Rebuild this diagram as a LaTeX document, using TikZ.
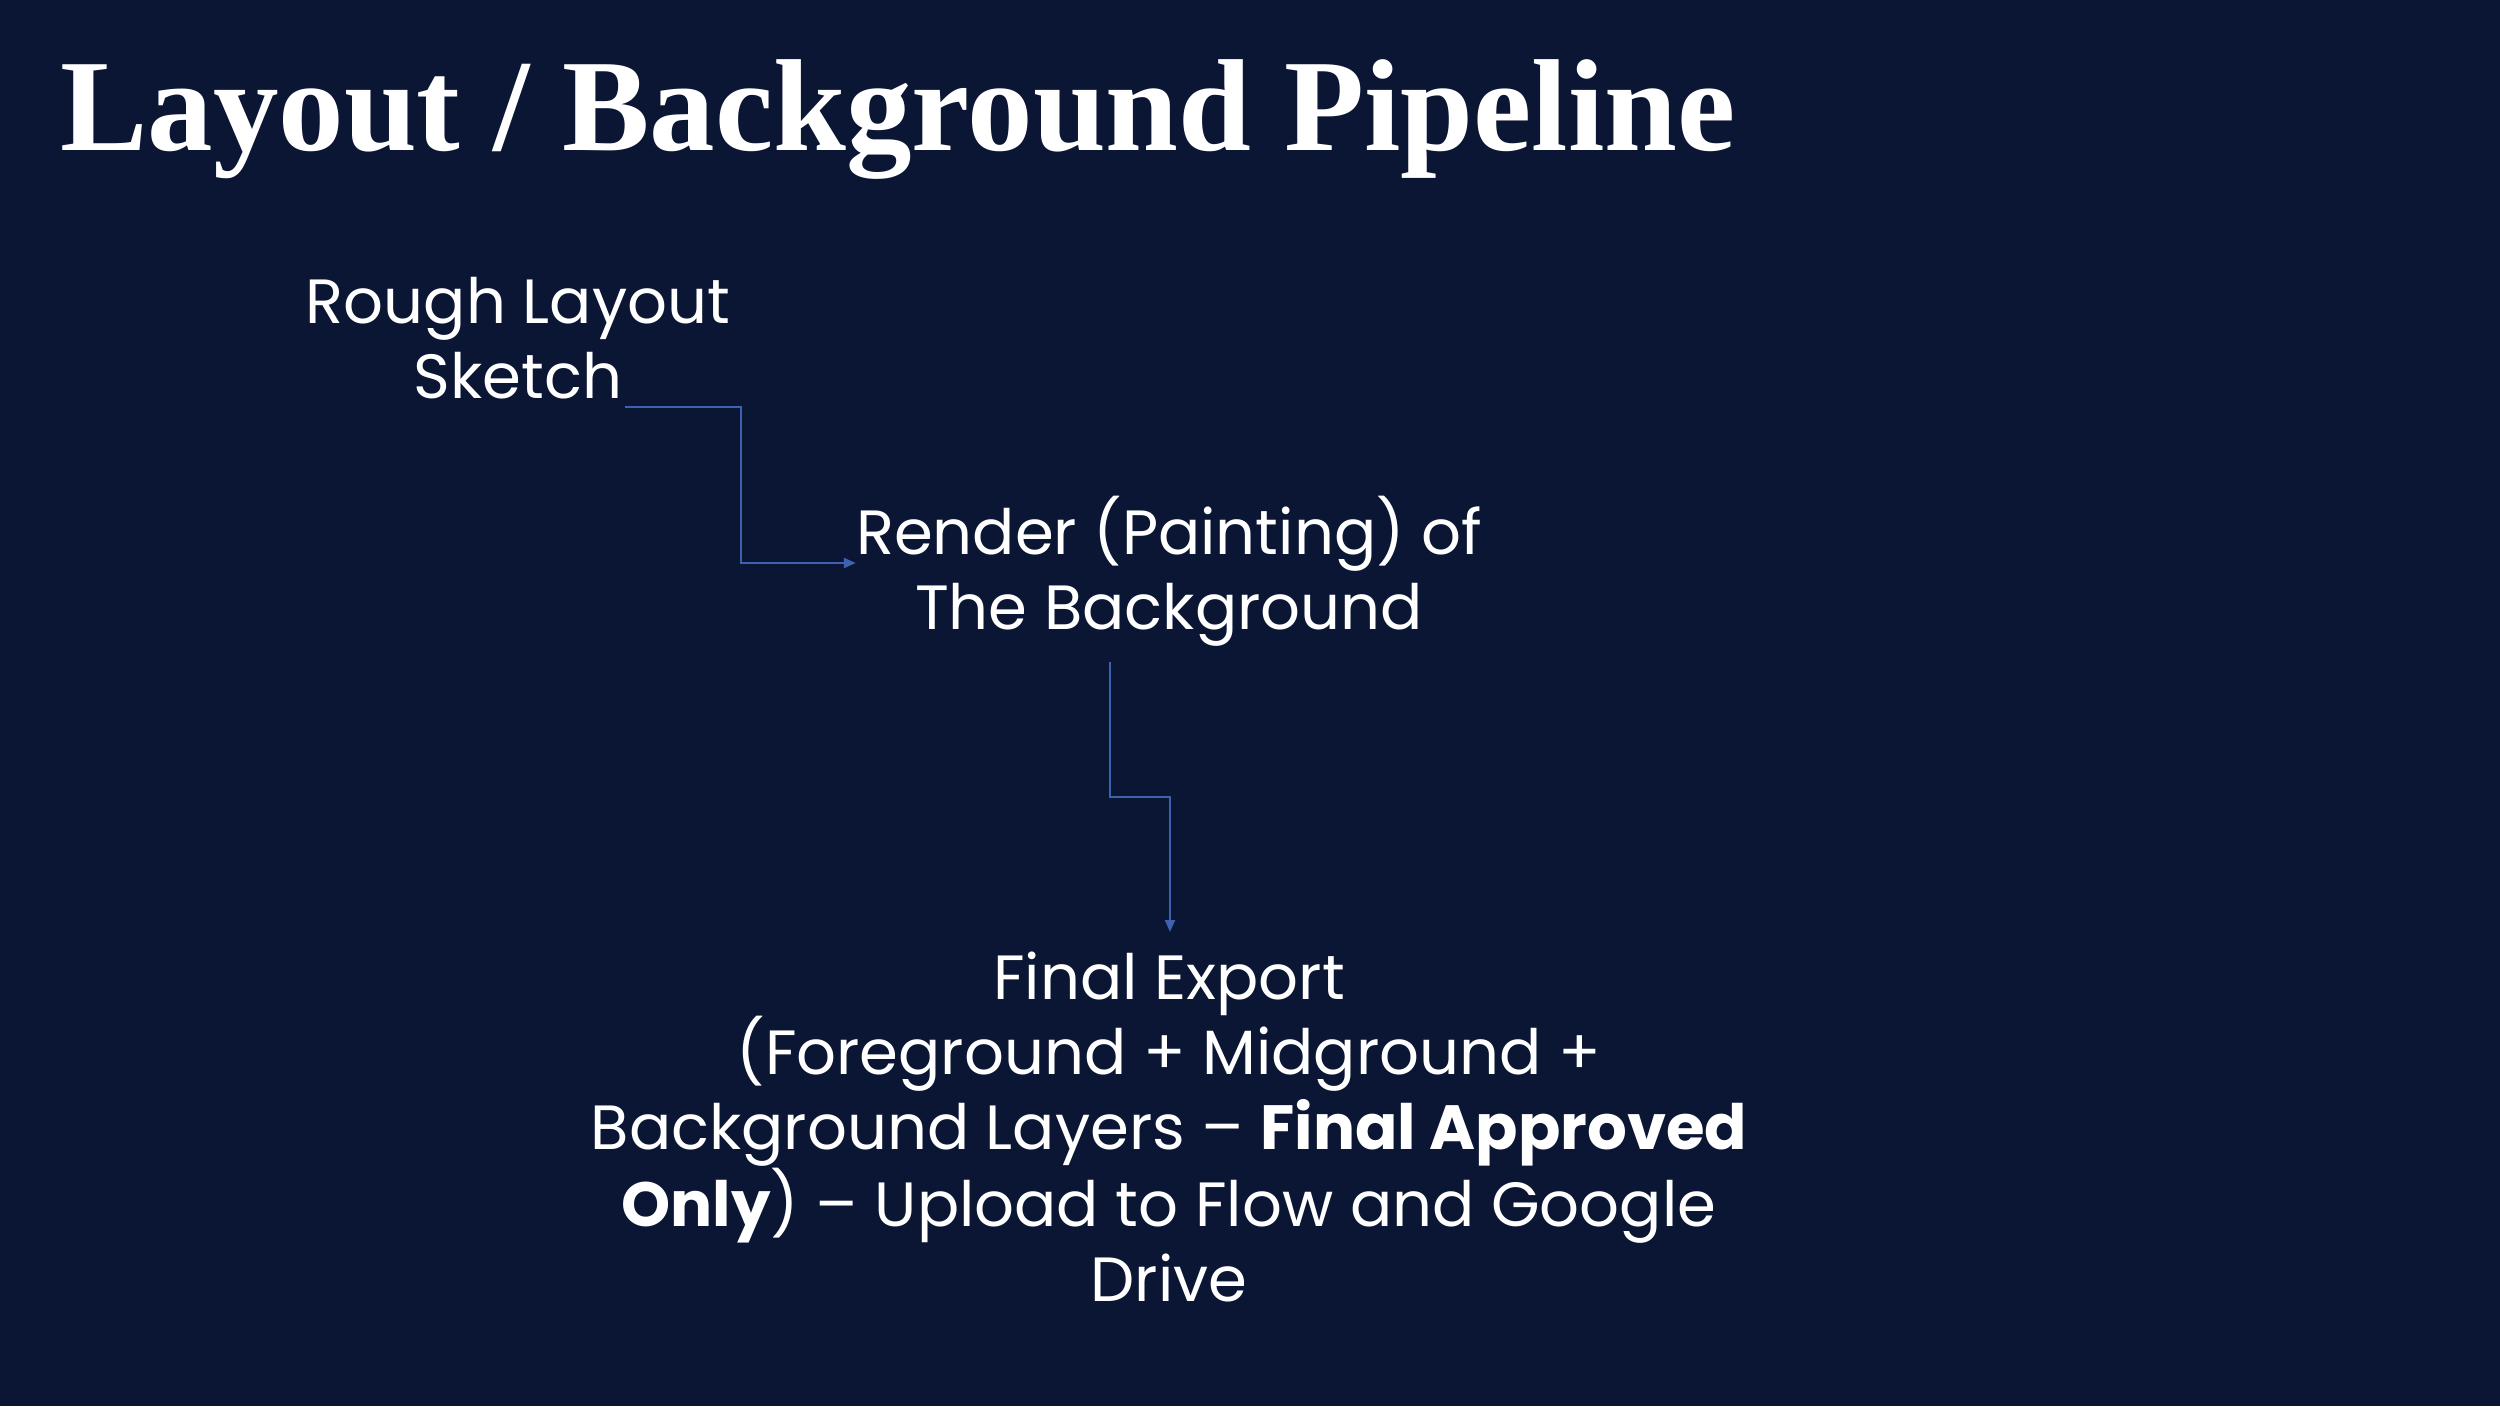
\documentclass[tikz,border=0pt]{standalone}
\usepackage{fontspec}
\setmainfont{Poppins}
\newfontfamily\titlefont{Liberation Serif}
\usetikzlibrary{arrows.meta}
\definecolor{bgnavy}{HTML}{0A1633}
\definecolor{linkblue}{HTML}{3F62B0}
\tikzset{
  steptext/.style={text=white, font=\fontsize{62.5}{75}\selectfont, align=center, inner sep=0pt, anchor=base},
  link/.style={draw=linkblue, line width=2pt, -{Triangle[length=12pt,width=10pt]}},
}
\begin{document}
\begin{tikzpicture}[x=1pt,y=-1pt]
\fill[bgnavy] (0,0) rectangle (2500,1406);
\useasboundingbox (0,0) rectangle (2500,1406);
\node[text=white, inner sep=0pt, anchor=base west, font=\titlefont\bfseries\fontsize{131}{136}\selectfont] (title) at (60,150) {Layout / Background Pipeline};
\node[steptext] (rough) at (518,398) {Rough Layout\\Sketch};
\node[steptext] (render) at (1169,629) {Render (Painting) of\\The Background};
\node[steptext] (final) at (1169,1301) {Final Export\\(Foreground + Midground +\\Background Layers -- \textbf{Final Approved}\\\textbf{Only}) -- Upload to Flow and Google\\Drive};
% connector end points, placed by the nodes
\coordinate (r1) at (625,407);
\coordinate (r2) at (render.west |- 0,563);
\coordinate (f1) at (1110,662);
\coordinate (f2) at (final.north -| 1170,0);
\draw[link] (r1) -| (741,485) |- (r2);
\draw[link] (f1) |- (1170,797) -- ([yshift=20pt]f2);
\end{tikzpicture}
\end{document}
